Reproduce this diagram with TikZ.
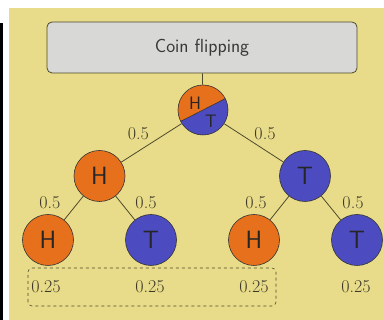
\documentclass[tikz,border=0pt]{standalone}
\usepackage{xcolor}
\usepackage{tikz}

\definecolor{paper}{RGB}{232,220,138}
\definecolor{boxgray}{RGB}{216,216,214}
\definecolor{olive}{RGB}{78,74,44}
\definecolor{headorange}{RGB}{230,112,28}
\definecolor{tailblue}{RGB}{76,76,192}
\definecolor{ink}{RGB}{62,58,40}

\begin{document}
\begin{tikzpicture}[x=1pt, y=1pt,
    coin/.style={circle, draw=black!80, semithick, minimum size=51pt, inner sep=0pt,
      font=\sffamily\fontsize{25}{28}\selectfont, text=black!85},
    heads/.style={coin, fill=headorange},
    tails/.style={coin, fill=tailblue},
    prob/.style={font=\fontsize{18}{21}\selectfont, text=ink},
    branch/.style={olive, thick}]
    \useasboundingbox (0,0) rectangle (384,320);

    % Background
    \fill[white] (0,0) rectangle (384,320);
    \fill[paper] (9,0) rectangle (384,312);
    \fill[black] (0,0) rectangle (3,297);

    % Title box
    \node[draw=olive, thick, fill=boxgray, rounded corners=5pt,
      minimum width=310pt, minimum height=51pt,
      font=\sffamily\fontsize{19}{22}\selectfont, text=black!78]
      (title) at (202,272.5) {Coin flipping};

    % Root coin, half heads and half tails
    \coordinate (rootc) at (203,210);
    \fill[headorange] (rootc) ++(27:25) arc[start angle=27, end angle=207, radius=25] -- cycle;
    \fill[tailblue] (rootc) ++(27:25) arc[start angle=27, end angle=-153, radius=25] -- cycle;
    \draw[black!80, semithick] (rootc) ++(207:25) -- ++(27:50);
    \node[coin, minimum size=50pt] (root) at (rootc) {};
    \node[font=\sffamily\fontsize{18}{20}\selectfont, text=black!85] (rooth) at (195,217) {H};
    \node[font=\sffamily\fontsize{18}{20}\selectfont, text=black!85] (roott) at (211,199) {T};

    % First flip
    \node[heads] (h) at (99.5,144) {H};
    \node[tails] (t) at (305,144) {T};

    % Second flip
    \node[heads] (hh) at (48,80) {H};
    \node[tails] (ht) at (151,80) {T};
    \node[heads] (th) at (254,80) {H};
    \node[tails] (tt) at (357,80) {T};

    % Branches
    \draw[branch] (title) -- (root);
    \draw[branch] (root) -- (h);
    \draw[branch] (root) -- (t);
    \draw[branch] (h) -- (hh);
    \draw[branch] (h) -- (ht);
    \draw[branch] (t) -- (th);
    \draw[branch] (t) -- (tt);

    % Branch probabilities
    \node[prob] (p1) at (138.5,186) {0.5};
    \node[prob] (p2) at (265,186) {0.5};
    \node[prob] (p3) at (50,117) {0.5};
    \node[prob] (p4) at (146,117) {0.5};
    \node[prob] (p5) at (256,117) {0.5};
    \node[prob] (p6) at (353,117) {0.5};

    % Outcome probabilities
    \draw[olive, semithick, dashed, rounded corners=4pt] (28,14) rectangle (276,52);
    \node[prob] (q1) at (46,33) {0.25};
    \node[prob] (q2) at (150,33) {0.25};
    \node[prob] (q3) at (254,33) {0.25};
    \node[prob] (q4) at (356,33) {0.25};
  \end{tikzpicture}
\end{document}
